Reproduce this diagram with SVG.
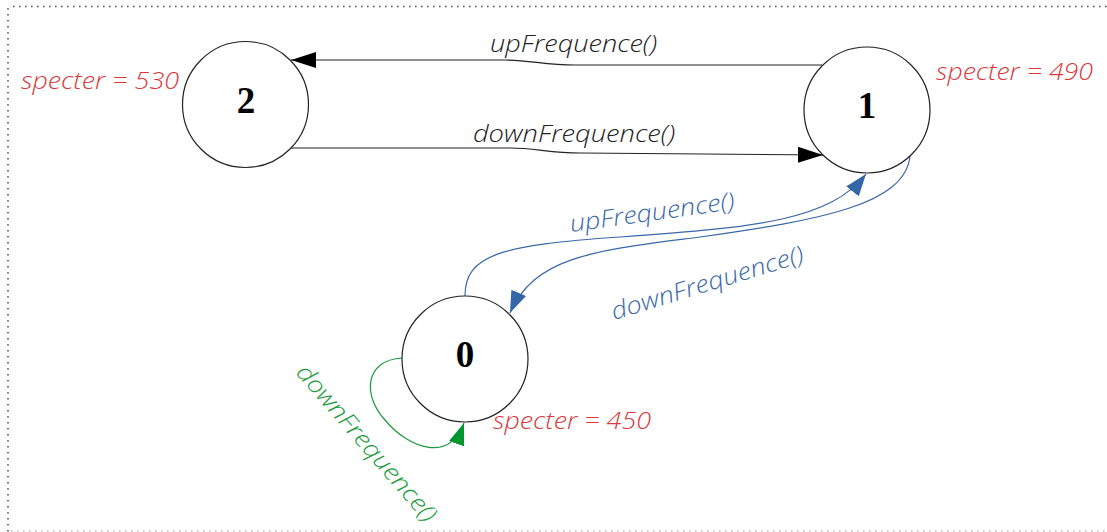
<svg xmlns="http://www.w3.org/2000/svg" width="1107" height="532" viewBox="0 0 1107 532">
<style>
.node circle{fill:#fff;stroke:#222;stroke-width:1.2}
.num{font-family:"Liberation Serif",serif;font-weight:bold;font-size:37px;fill:#000;text-anchor:middle}
.lbl{font-family:"Open Sans","Noto Sans",sans-serif;font-style:italic;font-weight:300;font-size:24px}
.red{fill:#d9383a}
.blk{fill:#222}
.blu{fill:#3a68a8}
.grn{fill:#1a9c3c}
.edge{fill:none;stroke-width:1.2}
</style>
<defs>
<marker id="ab" markerUnits="userSpaceOnUse" markerWidth="30" markerHeight="20" refX="25" refY="8" orient="auto"><path d="M0,0 L25,8 L0,16 Z" fill="#000"/></marker>
<marker id="au" markerUnits="userSpaceOnUse" markerWidth="30" markerHeight="20" refX="22" refY="8" orient="auto"><path d="M0,0 L22,8 L0,16 Z" fill="#3466a8"/></marker>
<marker id="ag" markerUnits="userSpaceOnUse" markerWidth="30" markerHeight="20" refX="22" refY="8" orient="auto"><path d="M0,0 L22,8 L0,16 Z" fill="#00982e"/></marker>
</defs>
<rect width="1107" height="532" fill="#fff"/>
<g id="border" fill="none" stroke-width="1.6" stroke-dasharray="1.6 4.4">
<line x1="13" y1="6.5" x2="1107" y2="6.5" stroke="#555"/>
<line x1="8" y1="8" x2="8" y2="532" stroke="#555"/>
<line x1="11" y1="531" x2="1107" y2="531" stroke="#bbb"/>
</g>
<g id="connectors">
<path class="edge" stroke="#222" d="M822,65 L575,65 C545,65 530,60 505,60 L291,60" marker-end="url(#ab)"/>
<path class="edge" stroke="#222" d="M290,148 L510,148 C535,148 550,153 580,153 L823,155" marker-end="url(#ab)"/>
<path class="edge" stroke="#3a68a8" d="M465,296 C465,255 500,245 620,237 C760,227 830,220 866,174" marker-end="url(#au)"/>
<path class="edge" stroke="#3a68a8" d="M910,156 C905,205 820,220 700,237 C600,250 535,255 510,313" marker-end="url(#au)"/>
<path class="edge" stroke="#1a9c3c" d="M402,358 C365,360 362,395 385,420 C410,450 450,462 464,423" marker-end="url(#ag)"/>
<text class="lbl blk" x="490" y="52" textLength="167" lengthAdjust="spacingAndGlyphs">upFrequence()</text>
<text class="lbl blk" x="473" y="142" textLength="202" lengthAdjust="spacingAndGlyphs">downFrequence()</text>
<text class="lbl blu" transform="translate(571,232) rotate(-8)" textLength="166" lengthAdjust="spacingAndGlyphs">upFrequence()</text>
<text class="lbl blu" transform="translate(614,320) rotate(-17)" textLength="200" lengthAdjust="spacingAndGlyphs">downFrequence()</text>
<text class="lbl grn" transform="translate(295,373) rotate(49)" textLength="200" lengthAdjust="spacingAndGlyphs">downFrequence()</text>
</g>
<g id="node2" class="node">
<circle cx="245.5" cy="104.5" r="63"/>
<text class="num" x="246" y="113">2</text>
<text class="lbl red" x="21" y="89" textLength="158" lengthAdjust="spacingAndGlyphs">specter = 530</text>
</g>
<g id="node1" class="node">
<circle cx="867" cy="110" r="63"/>
<text class="num" x="867" y="118">1</text>
<text class="lbl red" x="936" y="80" textLength="157" lengthAdjust="spacingAndGlyphs">specter = 490</text>
</g>
<g id="node0" class="node">
<circle cx="465" cy="359" r="63"/>
<text class="num" x="465" y="367">0</text>
<text class="lbl red" x="493" y="429" textLength="158" lengthAdjust="spacingAndGlyphs">specter = 450</text>
</g>
</svg>
